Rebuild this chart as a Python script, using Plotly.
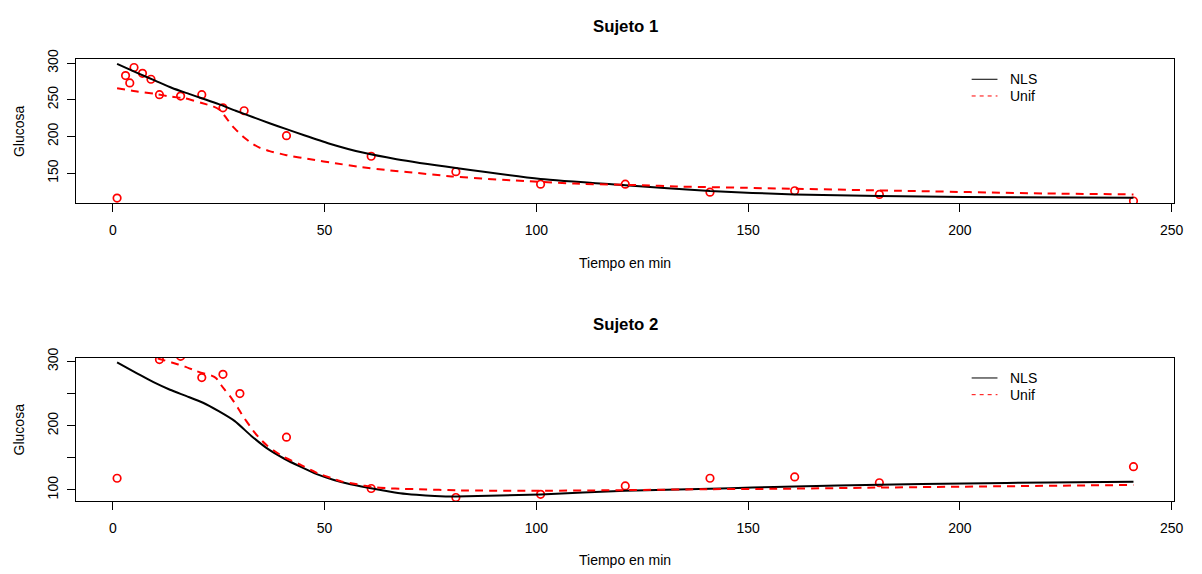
import plotly.graph_objects as go

# ---- Sujeto 1: observed glucose ----
t1_obs = [1, 3, 4, 5, 7, 9, 11, 16, 21, 26, 31, 41, 61, 81, 101, 121, 141, 161, 181, 241]
g1_obs = [116, 283, 273, 294, 286, 278, 257, 255, 257, 239, 235, 201, 173, 152, 135, 135, 124, 126, 121, 112]

# Sujeto 1: fitted NLS curve
t1_nls = [1, 6, 10, 14, 18, 21, 25, 29, 33, 37, 41, 45, 51, 59, 67, 81, 101, 121, 141, 161, 181, 201, 241]
g1_nls = [299, 286, 276, 266, 258, 252, 244, 235, 226.5, 218, 210, 202, 190.5, 178, 169, 157, 142,
          133.5, 125.5, 121, 118.8, 117.4, 116.5]

# Sujeto 1: fitted Unif curve
t1_unif = [1, 6, 10, 14, 17, 21, 23.7, 25.4, 26.8, 28.4, 30.7, 32.7, 34.5, 37, 41, 47, 52.5, 58.8,
           65, 70, 80, 94, 109, 125, 133, 149, 185, 220, 241]
g1_unif = [265.6, 261, 258, 254, 252, 245.5, 241, 235.5, 225, 213, 200, 191, 185, 180, 174.5, 168.5,
           163.5, 158, 154, 151.3, 145.5, 140.2, 135.7, 133.5, 131.8, 130, 126, 122.3, 121]

# ---- Sujeto 2: observed glucose ----
t2_obs = [1, 11, 16, 21, 26, 30, 41, 61, 81, 101, 121, 141, 161, 181, 241]
g2_obs = [118, 303, 308, 275, 280, 250, 182, 102, 88, 93, 106, 118, 120, 111, 136]

# Sujeto 2: fitted NLS curve
t2_nls = [1, 5.7, 9.6, 13.5, 17.4, 21.3, 25, 28.8, 32.7, 36.6, 40.5, 44.4, 48.3, 52.2, 56.1, 60,
          63.9, 67.8, 71.7, 76, 81, 101, 121, 141, 151, 161, 181, 201, 221, 241]
g2_nls = [298.5, 281.6, 267.8, 256, 246, 235.7, 222.5, 207, 184, 163.7, 148.4, 135.7, 124, 115.3, 108.6,
          103.5, 99, 94.8, 92.3, 90.5, 89.7, 92.8, 98.5, 101.5, 103.5, 105, 108, 110, 111.5, 112.7]

# Sujeto 2: fitted Unif curve
t2_unif = [1, 6, 11, 13.9, 17, 19.8, 21.3, 23.3, 24.4, 25.6, 26.4, 28, 29.5, 30.7, 32.3, 33.5, 35, 36.6,
           38.5, 40.1, 44, 46.7, 48.3, 52.2, 54.2, 57.7, 59.2, 62.4, 64.7, 68.6, 71.7, 82, 101, 121,
           141, 156, 181, 241]
g2_unif = [322, 314, 304, 298.5, 292, 285, 281.6, 278, 274, 263, 256, 243, 228, 215, 200, 189, 178, 168,
           159, 152, 140, 131, 126, 116.8, 112.7, 108.6, 106.6, 103.5, 102.5, 101.5, 101, 99, 98.5, 99.5,
           101, 101.5, 103.5, 107.6]

x_ticks = [0, 50, 100, 150, 200, 250]
y1_ticks = [150, 200, 250, 300]
y2_ticks = [100, 150, 200, 250, 300]
y2_ticktext = ["100", "", "200", "", "300"]

FONT = "Liberation Sans, Arial, Helvetica, sans-serif"
RED = "#FF0000"
W, H = 1202, 574

fig = go.Figure()

panels = [
    ("x", "y", t1_obs, g1_obs, t1_nls, g1_nls, t1_unif, g1_unif),
    ("x2", "y2", t2_obs, g2_obs, t2_nls, g2_nls, t2_unif, g2_unif),
]

for xa, ya, to, go_, tn, gn, tu, gu in panels:
    fig.add_trace(go.Scatter(x=to, y=go_, mode="markers", xaxis=xa, yaxis=ya, showlegend=False,
                             marker=dict(symbol="circle-open", size=7.5, color=RED,
                                         line=dict(width=1.7, color=RED)),
                             cliponaxis=True))
    fig.add_trace(go.Scatter(x=tn, y=gn, mode="lines", xaxis=xa, yaxis=ya, showlegend=False,
                             line=dict(color="black", width=2, shape="spline", smoothing=0.6)))
    fig.add_trace(go.Scatter(x=tu, y=gu, mode="lines", xaxis=xa, yaxis=ya, showlegend=False,
                             line=dict(color=RED, width=2, dash="8px,6px", shape="spline",
                                       smoothing=0.5)))

axis_common = dict(showline=True, mirror=True, linecolor="black", linewidth=1,
                   ticks="outside", ticklen=8, tickwidth=1, tickcolor="black",
                   showgrid=False, zeroline=False,
                   tickfont=dict(family=FONT, size=14, color="black"))

xdom = [77 / W, 1183 / W]
fig.update_layout(
    width=W, height=H,
    margin=dict(l=0, r=0, t=0, b=0),
    paper_bgcolor="white", plot_bgcolor="white",
    font=dict(family=FONT, size=14, color="black"),
    showlegend=False,
    xaxis=dict(domain=xdom, range=[-8.6, 250.6], anchor="y", tickvals=x_ticks,
               ticklabelstandoff=6, **axis_common),
    yaxis=dict(domain=[1 - 196.7 / H, 1 - 50 / H], range=[108.9, 305.4], anchor="x",
               tickvals=y1_ticks, tickangle=-90, ticklabelstandoff=4, **axis_common),
    xaxis2=dict(domain=xdom, range=[-8.6, 250.6], anchor="y2", tickvals=x_ticks,
                ticklabelstandoff=6, **axis_common),
    yaxis2=dict(domain=[1 - 500 / H, 1 - 354 / H], range=[82.1, 305.7], anchor="x2",
                tickvals=y2_ticks, ticktext=y2_ticktext, tickangle=-90, ticklabelstandoff=4,
                **axis_common),
)


def label(text, x, y, size=14, bold=False, angle=0, xanchor="center"):
    fig.add_annotation(text=f"<b>{text}</b>" if bold else text, xref="paper", yref="paper",
                       x=x / W, y=1 - y / H, xanchor=xanchor, yanchor="middle",
                       showarrow=False, textangle=angle,
                       font=dict(family=FONT, size=size, color="black"))


def legend_box(y_first, y_second):
    # line samples
    fig.add_shape(type="line", xref="paper", yref="paper", x0=979 / W, x1=1005 / W,
                  y0=1 - y_first / H, y1=1 - y_first / H, line=dict(color="black", width=1))
    fig.add_shape(type="line", xref="paper", yref="paper", x0=979 / W, x1=1005 / W,
                  y0=1 - y_second / H, y1=1 - y_second / H,
                  line=dict(color=RED, width=1, dash="4px,4px"))
    label("NLS", 1016, y_first, xanchor="left")
    label("Unif", 1016, y_second, xanchor="left")


label("Sujeto 1", 630, 17, size=16.8, bold=True)
label("Tiempo en min", 630, 257)
label("Glucosa", 19, 123.4, angle=-90)
legend_box(70.5, 87.5)

label("Sujeto 2", 630, 320, size=16.8, bold=True)
label("Tiempo en min", 630, 560)
label("Glucosa", 19, 427, angle=-90)
legend_box(374.5, 391.5)

fig.write_html("out.html")
